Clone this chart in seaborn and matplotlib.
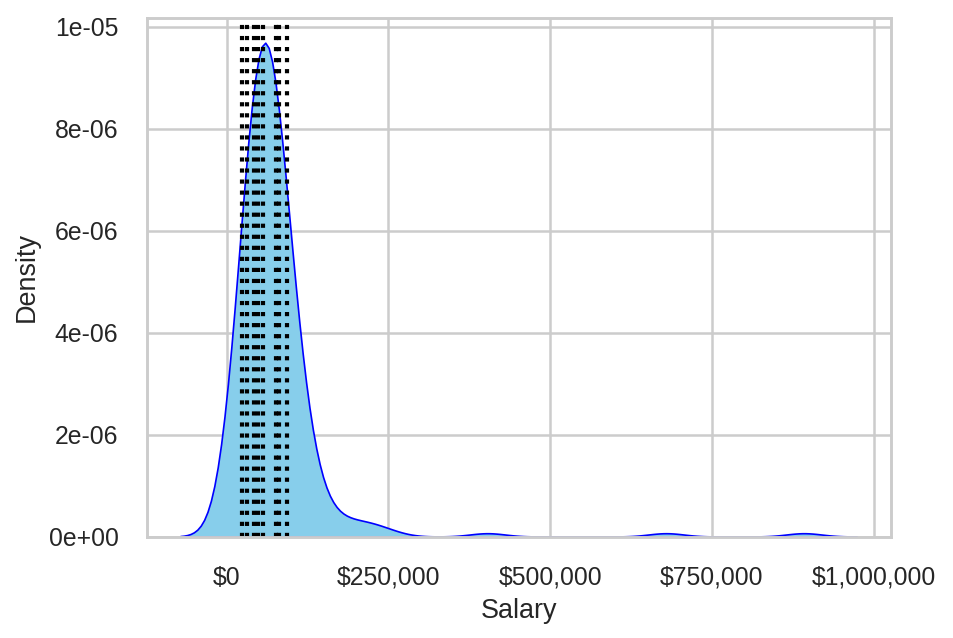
import numpy as np
import matplotlib
matplotlib.use('Agg')
import matplotlib.pyplot as plt
import seaborn as sns
from matplotlib.ticker import StrMethodFormatter, MultipleLocator

# salary levels (in dollars) and how many people sit at each level
salary_levels = [10000, 20000, 30000, 40000, 50000, 60000, 70000, 80000, 90000,
                 100000, 110000, 120000, 130000, 140000,
                 150000, 170000, 190000, 210000, 230000, 250000,
                 403000, 679000, 892000]
salary_counts = [6, 12, 18, 25, 30, 31, 28, 22, 16,
                 11, 8, 5, 3, 1,
                 2, 2, 1, 2, 1, 1,
                 1, 1, 1]

# marked salaries (dotted reference lines)
marked_salaries = [23700, 32200, 42200, 48400, 56200, 76300, 80900, 92500]

salaries = np.repeat(salary_levels, salary_counts)

sns.set_theme(style='whitegrid', font_scale=1.08,
              rc={'grid.linewidth': 1.2, 'axes.linewidth': 1.4,
                  'xtick.major.pad': 8, 'ytick.major.pad': 7.5})
plt.rcParams['font.family'] = ['Liberation Sans', 'DejaVu Sans']
plt.rcParams['axes.unicode_minus'] = False

fig = plt.figure(figsize=(953 / 150, 638 / 150), dpi=150)
ax = fig.add_axes([146.5 / 953, 1 - 536.5 / 638, (890.5 - 146.5) / 953, (536.5 - 18) / 638])

sns.kdeplot(x=salaries, fill=True, color='skyblue', edgecolor='blue',
            alpha=1, linewidth=0.8, ax=ax)

for s in marked_salaries:
    ax.axvline(s, color='black', linestyle=':', linewidth=2)

ax.xaxis.set_major_locator(MultipleLocator(250000))
ax.xaxis.set_major_formatter(StrMethodFormatter('${x:,.0f}'))
ax.yaxis.set_major_formatter(StrMethodFormatter('{x:.0e}'))
ax.set_xlabel('Salary')
ax.set_ylabel('Density')

fig.savefig('out.png', dpi=150)
